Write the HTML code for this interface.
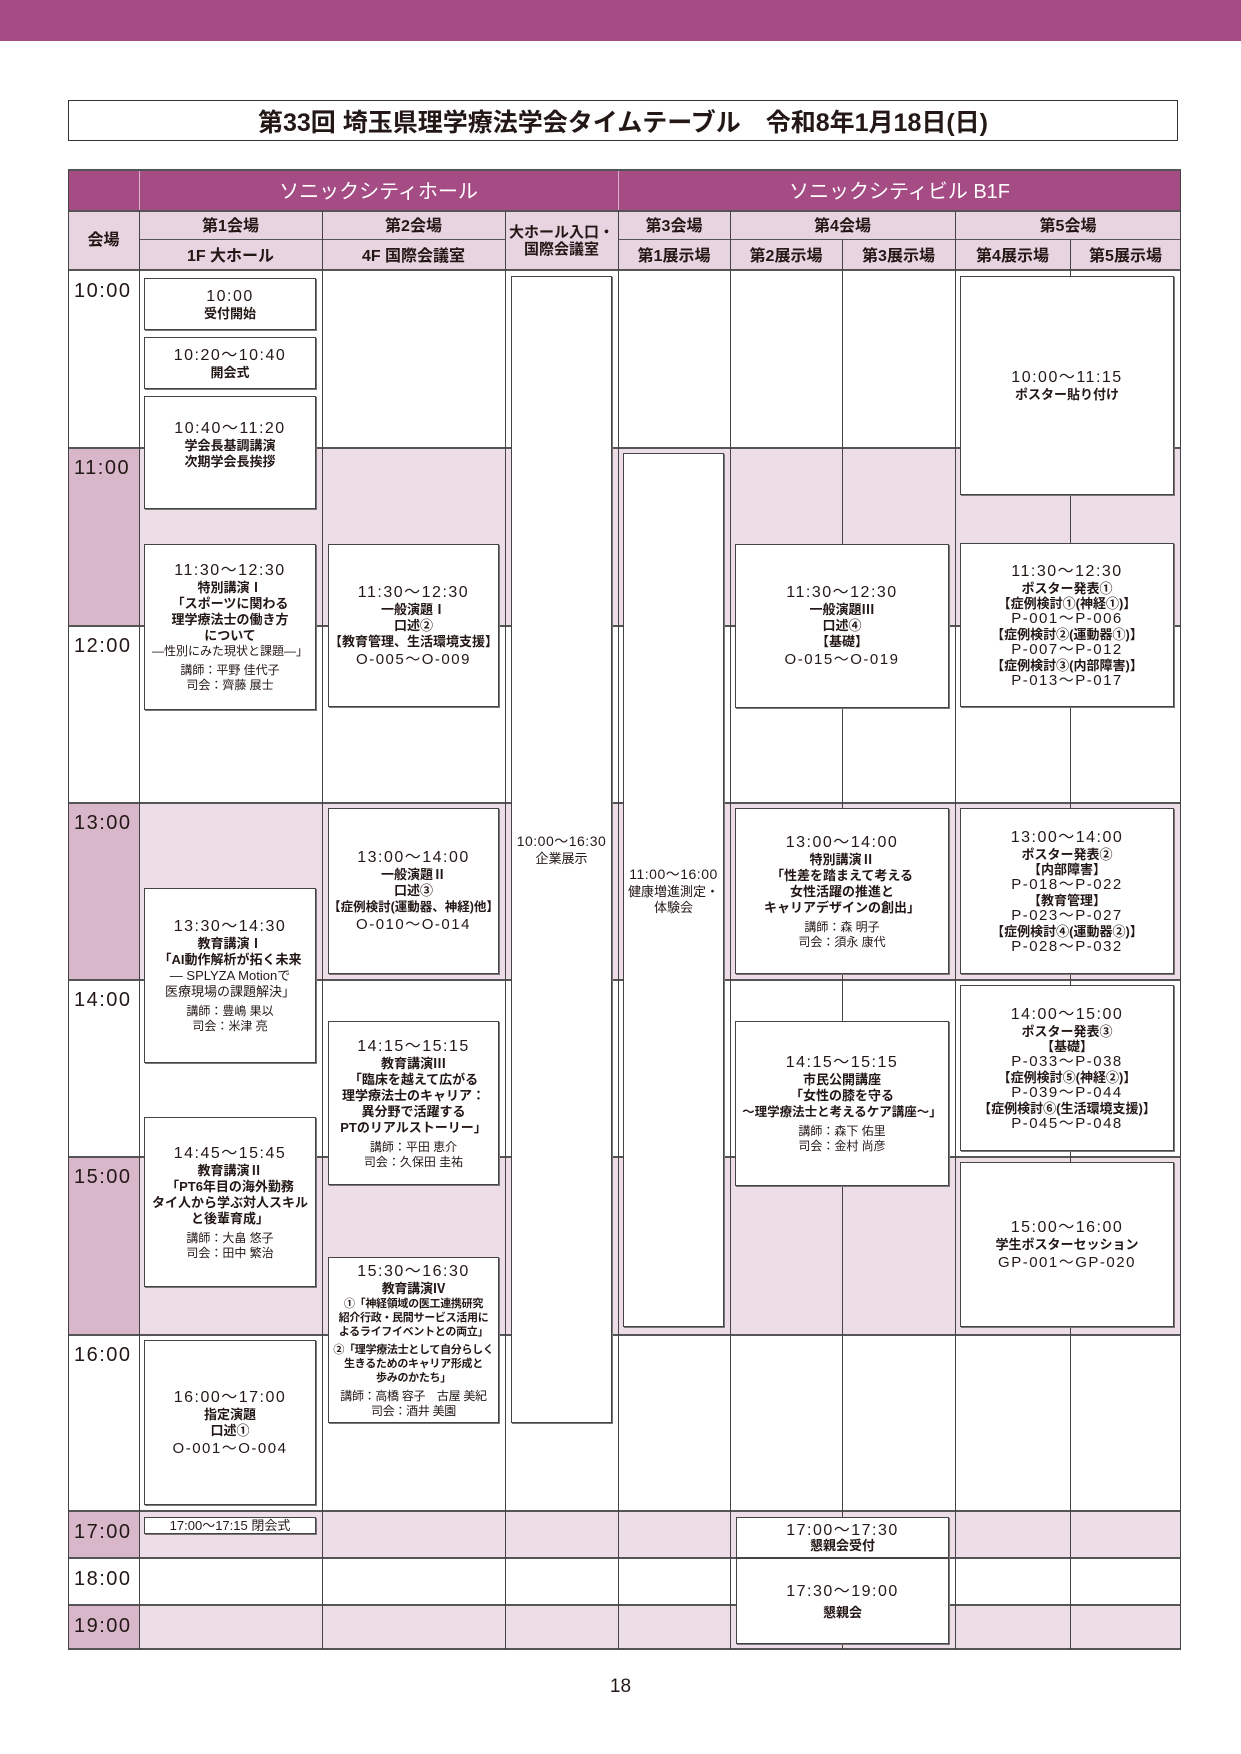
<!DOCTYPE html>
<html><head><meta charset="utf-8">
<style>
*{margin:0;padding:0;box-sizing:border-box}
body{width:1241px;height:1754px;background:#fff;position:relative;font-family:"Liberation Sans","Noto Sans CJK JP",sans-serif;color:#231815;overflow:hidden}
.a{position:absolute}
.topbar{left:0;top:0;width:1241px;height:41px;background:#a54c84}
.title{left:68px;top:100px;width:1110px;height:41px;border:1.5px solid #333;display:flex;align-items:center;justify-content:center;font-size:25px;font-weight:bold;letter-spacing:0px}
.row{position:absolute;left:68px;width:1113px}
.pk{background:#ecdde6}
.tc{position:absolute;left:68px;width:71px;font-size:20px;padding:10px 0 0 6px;letter-spacing:1.5px}
.tcp{background:#d8b7cb}
.hl{position:absolute;height:1.5px;background:#555;left:68px;width:1113px}
.vl{position:absolute;width:1px;background:#444}
.b{position:absolute;background:#fff;border:1.5px solid #444;box-shadow:1px 1px 0 #777;display:flex;flex-direction:column;align-items:center;justify-content:center;text-align:center;font-size:13px;line-height:16px;font-weight:bold}
.b .t{font-size:16px;font-weight:normal;letter-spacing:1.5px;line-height:19px}
.b .s{font-size:12px;font-weight:normal;line-height:15px}
.b .g{height:4px}
.hd{position:absolute;display:flex;align-items:center;justify-content:center;font-size:16px;font-weight:bold;text-align:center;line-height:17px}
</style></head><body>
<div class="a topbar"></div>
<div class="a title">第33回 埼玉県理学療法学会タイムテーブル　令和8年1月18日(日)</div>

<div class="a" style="left:68px;top:170px;width:1113px;height:41px;background:#a54c84"></div>
<div class="a" style="left:68px;top:211px;width:1113px;height:59px;background:#e8d4e0"></div>
<div class="hd" style="left:139px;top:172px;width:479px;height:41px;color:#fff;font-size:20px;font-weight:normal">ソニックシティホール</div>
<div class="hd" style="left:618px;top:172px;width:563px;height:41px;color:#fff;font-size:20px;font-weight:normal">ソニックシティビル B1F</div>
<div class="vl" style="left:139px;top:170px;height:41px;background:#d9b3cb"></div>
<div class="vl" style="left:618px;top:170px;height:41px;background:#d9b3cb"></div>

<div class="hd" style="left:68px;top:211px;width:71px;height:59px">会場</div>
<div class="hd" style="left:139px;top:212px;width:183px;height:29px">第1会場</div>
<div class="hd" style="left:139px;top:241px;width:183px;height:30px">1F 大ホール</div>
<div class="hd" style="left:322px;top:212px;width:183px;height:29px">第2会場</div>
<div class="hd" style="left:322px;top:241px;width:183px;height:30px">4F 国際会議室</div>
<div class="hd" style="left:505px;top:211px;width:113px;height:59px;font-size:15px">大ホール入口・<br>国際会議室</div>
<div class="hd" style="left:618px;top:212px;width:112px;height:29px">第3会場</div>
<div class="hd" style="left:618px;top:241px;width:112px;height:30px">第1展示場</div>
<div class="hd" style="left:730px;top:212px;width:225px;height:29px">第4会場</div>
<div class="hd" style="left:730px;top:241px;width:112px;height:30px">第2展示場</div>
<div class="hd" style="left:842px;top:241px;width:113px;height:30px">第3展示場</div>
<div class="hd" style="left:955px;top:212px;width:226px;height:29px">第5会場</div>
<div class="hd" style="left:955px;top:241px;width:115px;height:30px">第4展示場</div>
<div class="hd" style="left:1070px;top:241px;width:111px;height:30px">第5展示場</div>

<div class="row pk" style="top:447px;height:178px"></div>
<div class="row pk" style="top:802px;height:177px"></div>
<div class="row pk" style="top:1156px;height:178px"></div>
<div class="row pk" style="top:1511px;height:47px"></div>
<div class="row pk" style="top:1605px;height:44px"></div>

<div class="tc" style="top:270px;height:177px">10:00</div>
<div class="tc tcp" style="top:447px;height:178px">11:00</div>
<div class="tc" style="top:625px;height:177px">12:00</div>
<div class="tc tcp" style="top:802px;height:177px">13:00</div>
<div class="tc" style="top:979px;height:177px">14:00</div>
<div class="tc tcp" style="top:1156px;height:178px">15:00</div>
<div class="tc" style="top:1334px;height:177px">16:00</div>
<div class="tc tcp" style="top:1511px;height:47px">17:00</div>
<div class="tc" style="top:1558px;height:47px">18:00</div>
<div class="tc tcp" style="top:1605px;height:44px">19:00</div>

<div class="hl" style="top:169px;height:2px"></div>
<div class="hl" style="top:210px"></div>
<div class="hl" style="top:239px;left:139px;width:366px;height:1px"></div>
<div class="hl" style="top:239px;left:618px;width:563px;height:1px"></div>
<div class="hl" style="top:269px;height:2px"></div>
<div class="hl" style="top:447px"></div>
<div class="hl" style="top:625px"></div>
<div class="hl" style="top:802px"></div>
<div class="hl" style="top:979px"></div>
<div class="hl" style="top:1156px"></div>
<div class="hl" style="top:1334px"></div>
<div class="hl" style="top:1510px;height:2px"></div>
<div class="hl" style="top:1557px;height:2px"></div>
<div class="hl" style="top:1604px;height:2px"></div>
<div class="hl" style="top:1648px;height:2px"></div>

<div class="vl" style="left:68px;top:170px;height:1480px"></div>
<div class="vl" style="left:139px;top:211px;height:1439px"></div>
<div class="vl" style="left:322px;top:211px;height:1439px"></div>
<div class="vl" style="left:505px;top:211px;height:1439px"></div>
<div class="vl" style="left:618px;top:211px;height:1439px"></div>
<div class="vl" style="left:730px;top:211px;height:1439px"></div>
<div class="vl" style="left:842px;top:240px;height:1410px"></div>
<div class="vl" style="left:955px;top:211px;height:1439px"></div>
<div class="vl" style="left:1070px;top:240px;height:1410px"></div>
<div class="vl" style="left:1180px;top:170px;height:1480px"></div>

<div class="b" style="left:144px;top:278px;width:172px;height:52px"><div class="t">10:00</div><div>受付開始</div></div>
<div class="b" style="left:144px;top:337px;width:172px;height:52px"><div class="t">10:20～10:40</div><div>開会式</div></div>
<div class="b" style="left:144px;top:396px;width:172px;height:113px;justify-content:flex-start;padding-top:22px"><div class="t">10:40～11:20</div><div>学会長基調講演</div><div>次期学会長挨拶</div></div>
<div class="b" style="left:144px;top:544px;width:172px;height:166px"><div class="t">11:30～12:30</div><div>特別講演Ⅰ</div><div>「スポーツに関わる</div><div>理学療法士の働き方</div><div>について</div><div class="s" style="white-space:nowrap">―性別にみた現状と課題―」</div><div class="g"></div><div class="s">講師：平野 佳代子</div><div class="s">司会：齊藤 展士</div></div>
<div class="b" style="left:144px;top:888px;width:172px;height:175px"><div class="t">13:30～14:30</div><div>教育講演Ⅰ</div><div style="white-space:nowrap">「AI動作解析が拓く未来</div><div style="font-weight:normal">― SPLYZA Motionで</div><div style="font-weight:normal">医療現場の課題解決」</div><div class="g"></div><div class="s">講師：豊嶋 果以</div><div class="s">司会：米津 亮</div></div>
<div class="b" style="left:144px;top:1117px;width:172px;height:170px"><div class="t">14:45～15:45</div><div>教育講演Ⅱ</div><div>「PT6年目の海外勤務</div><div style="white-space:nowrap">タイ人から学ぶ対人スキル</div><div>と後輩育成」</div><div class="g"></div><div class="s">講師：大畠 悠子</div><div class="s">司会：田中 繁治</div></div>
<div class="b" style="left:144px;top:1340px;width:172px;height:165px"><div class="t">16:00～17:00</div><div>指定演題</div><div>口述①</div><div class="t" style="font-size:15px">O-001～O-004</div></div>
<div class="b" style="left:144px;top:1517px;width:172px;height:17px;font-weight:normal;font-size:13px;line-height:14px">17:00～17:15 閉会式</div>

<div class="b" style="left:328px;top:544px;width:171px;height:163px"><div class="t">11:30～12:30</div><div>一般演題Ⅰ</div><div>口述②</div><div style="white-space:nowrap">【教育管理、生活環境支援】</div><div class="t" style="font-size:15px">O-005～O-009</div></div>
<div class="b" style="left:328px;top:808px;width:171px;height:166px"><div class="t">13:00～14:00</div><div>一般演題Ⅱ</div><div>口述③</div><div style="white-space:nowrap;font-size:12.5px">【症例検討(運動器、神経)他】</div><div class="t" style="font-size:15px">O-010～O-014</div></div>
<div class="b" style="left:328px;top:1021px;width:171px;height:164px"><div class="t">14:15～15:15</div><div>教育講演Ⅲ</div><div>「臨床を越えて広がる</div><div style="white-space:nowrap">理学療法士のキャリア：</div><div>異分野で活躍する</div><div>PTのリアルストーリー」</div><div class="g"></div><div class="s">講師：平田 恵介</div><div class="s">司会：久保田 圭祐</div></div>
<div class="b" style="left:328px;top:1257px;width:171px;height:166px;font-size:11px;line-height:14px;letter-spacing:-0.3px"><div class="t">15:30～16:30</div><div style="font-size:13px;line-height:16px">教育講演Ⅳ</div><div style="white-space:nowrap">①「神経領域の医工連携研究</div><div style="white-space:nowrap">紹介行政・民間サービス活用に</div><div style="white-space:nowrap">よるライフイベントとの両立」</div><div class="g"></div><div style="white-space:nowrap">②「理学療法士として自分らしく</div><div>生きるためのキャリア形成と</div><div>歩みのかたち」</div><div class="g"></div><div class="s" style="white-space:nowrap">講師：高橋 容子　古屋 美紀</div><div class="s">司会：酒井 美園</div></div>

<div class="b" style="left:511px;top:276px;width:101px;height:1147px;font-weight:normal"><div class="t" style="font-size:14px;letter-spacing:0.5px">10:00～16:30</div><div>企業展示</div></div>
<div class="b" style="left:623px;top:453px;width:101px;height:874px;font-weight:normal"><div class="t" style="font-size:14px;letter-spacing:0.5px">11:00～16:00</div><div style="white-space:nowrap">健康増進測定・</div><div>体験会</div></div>

<div class="b" style="left:735px;top:544px;width:214px;height:164px"><div class="t">11:30～12:30</div><div>一般演題Ⅲ</div><div>口述④</div><div>【基礎】</div><div class="t" style="font-size:15px">O-015～O-019</div></div>
<div class="b" style="left:735px;top:808px;width:214px;height:166px"><div class="t">13:00～14:00</div><div>特別講演Ⅱ</div><div>「性差を踏まえて考える</div><div>女性活躍の推進と</div><div>キャリアデザインの創出」</div><div class="g"></div><div class="s">講師：森 明子</div><div class="s">司会：須永 康代</div></div>
<div class="b" style="left:735px;top:1021px;width:214px;height:165px"><div class="t">14:15～15:15</div><div>市民公開講座</div><div>「女性の膝を守る</div><div style="white-space:nowrap;font-size:12.5px">～理学療法士と考えるケア講座～」</div><div class="g"></div><div class="s">講師：森下 佑里</div><div class="s">司会：金村 尚彦</div></div>
<div class="b" style="left:736px;top:1517px;width:213px;height:41px;line-height:14px"><div class="t" style="line-height:16px">17:00～17:30</div><div>懇親会受付</div></div>
<div class="b" style="left:736px;top:1558px;width:213px;height:86px"><div class="t">17:30～19:00</div><div class="g"></div><div>懇親会</div></div>

<div class="b" style="left:960px;top:276px;width:214px;height:219px"><div class="t">10:00～11:15</div><div>ポスター貼り付け</div></div>
<div class="b" style="left:960px;top:543px;width:214px;height:164px;line-height:15px"><div class="t">11:30～12:30</div><div>ポスター発表①</div><div>【症例検討①(神経①)】</div><div class="t" style="font-size:15px;line-height:16px">P-001～P-006</div><div>【症例検討②(運動器①)】</div><div class="t" style="font-size:15px;line-height:16px">P-007～P-012</div><div>【症例検討③(内部障害)】</div><div class="t" style="font-size:15px;line-height:16px">P-013～P-017</div></div>
<div class="b" style="left:960px;top:808px;width:214px;height:166px;line-height:15px"><div class="t">13:00～14:00</div><div>ポスター発表②</div><div>【内部障害】</div><div class="t" style="font-size:15px;line-height:16px">P-018～P-022</div><div>【教育管理】</div><div class="t" style="font-size:15px;line-height:16px">P-023～P-027</div><div>【症例検討④(運動器②)】</div><div class="t" style="font-size:15px;line-height:16px">P-028～P-032</div></div>
<div class="b" style="left:960px;top:985px;width:214px;height:166px;line-height:15px"><div class="t">14:00～15:00</div><div>ポスター発表③</div><div>【基礎】</div><div class="t" style="font-size:15px;line-height:16px">P-033～P-038</div><div>【症例検討⑤(神経②)】</div><div class="t" style="font-size:15px;line-height:16px">P-039～P-044</div><div style="white-space:nowrap">【症例検討⑥(生活環境支援)】</div><div class="t" style="font-size:15px;line-height:16px">P-045～P-048</div></div>
<div class="b" style="left:960px;top:1162px;width:214px;height:165px"><div class="t">15:00～16:00</div><div>学生ポスターセッション</div><div class="t" style="font-size:15px">GP-001～GP-020</div></div>

<div class="a" style="left:0;top:1676px;width:1241px;text-align:center;font-size:19px">18</div>
</body></html>
